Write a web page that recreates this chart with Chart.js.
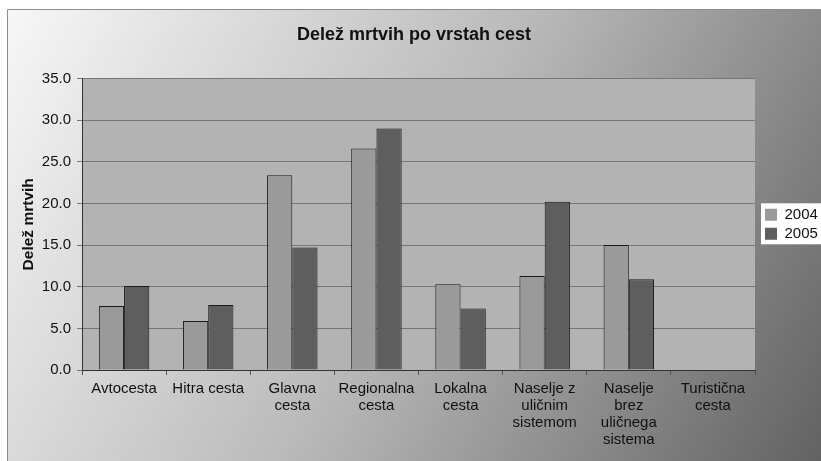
<!DOCTYPE html>
<html>
<head>
<meta charset="utf-8">
<script src="https://cdn.jsdelivr.net/npm/chart.js@4"></script>
<style>
  html, body { margin: 0; padding: 0; background: #fff; }
  #wrap { width: 821px; height: 461px; }
</style>
</head>
<body>
<div id="wrap"><canvas id="chartMrtvi" width="821" height="461"></canvas></div>
<script>
// podatki
const kategorije = [
  "Avtocesta",
  "Hitra cesta",
  ["Glavna", "cesta"],
  ["Regionalna", "cesta"],
  ["Lokalna", "cesta"],
  ["Naselje z", "uličnim", "sistemom"],
  ["Naselje", "brez", "uličnega", "sistema"],
  ["Turistična", "cesta"]
];
const leto2004 = [7.7, 5.9, 23.4, 26.6, 10.3, 11.3, 15.0, null];
const leto2005 = [10.1, 7.8, 14.7, 29.0, 7.4, 20.2, 10.9, null];
const serije = ["2004", "2005"];

const FONT = "'Liberation Sans', Arial, sans-serif";

/* ozadje: gradient okvir, siva risalna površina, bela legenda */
const ozadjePlugin = {
  id: "ozadje",
  afterLayout(chart) {
    // legenda naj bo poravnana na sredino risalne površine
    if (chart.legend) {
      chart.legend.top = chart.chartArea.top;
      chart.legend.bottom = chart.chartArea.bottom;
      chart.legend.left += 6;
    }
  },
  beforeDraw(chart) {
    const { ctx, chartArea } = chart;
    ctx.save();
    ctx.fillStyle = "#ffffff";
    ctx.fillRect(0, 0, chart.width, chart.height);

    const g = ctx.createLinearGradient(7, 9, chart.width, chart.height);
    g.addColorStop(0, "#f7f7f7");
    g.addColorStop(0.5, "#b9b9b9");
    g.addColorStop(1, "#626262");
    ctx.fillStyle = g;
    ctx.fillRect(7, 9, chart.width - 7, chart.height - 9);
    ctx.strokeStyle = "#8c8c8c";
    ctx.lineWidth = 1;
    ctx.beginPath();
    ctx.moveTo(7.5, chart.height);
    ctx.lineTo(7.5, 9.5);
    ctx.lineTo(chart.width, 9.5);
    ctx.stroke();

    ctx.fillStyle = "#b3b3b3";
    ctx.fillRect(chartArea.left, chartArea.top, chartArea.right - chartArea.left, chartArea.bottom - chartArea.top);

    const boxes = chart.legend && chart.legend.legendHitBoxes;
    if (boxes && boxes.length) {
      const l = Math.min(...boxes.map(b => b.left)) - 4;
      const t = Math.min(...boxes.map(b => b.top)) - 4;
      const b = Math.max(...boxes.map(b => b.top + b.height)) + 3;
      ctx.fillStyle = "#ffffff";
      ctx.fillRect(l, t, chart.width - l, b - t);
    }
    ctx.restore();
  }
};

const ctx = document.getElementById("chartMrtvi").getContext("2d");

const chartMrtvi = new Chart(ctx, {
  type: "bar",
  data: {
    labels: kategorije,
    datasets: [
      {
        label: serije[0],
        data: leto2004,
        backgroundColor: "#9a9a9a",
        borderColor: "#1a1a1a",
        borderWidth: 1,
        borderSkipped: "bottom",
      },
      {
        label: serije[1],
        data: leto2005,
        backgroundColor: "#5e5e5e",
        borderColor: "#1a1a1a",
        borderWidth: 1,
        borderSkipped: "bottom",
      },
    ],
  },
  options: {
    responsive: false,
    animation: false,
    devicePixelRatio: 1,
    layout: { padding: { left: 7, top: 9, right: 0, bottom: 0 } },
    datasets: {
      bar: { categoryPercentage: 0.6, barPercentage: 1.0 },
    },
    plugins: {
      title: {
        display: true,
        text: "Delež mrtvih po vrstah cest",
        color: "#111",
        font: { family: FONT, size: 18, weight: "bold" },
        padding: { top: 15, bottom: 33 },
      },
      legend: {
        position: "right",
        align: "center",
        maxWidth: 66,
        labels: {
          color: "#111",
          font: { family: FONT, size: 15 },
          boxWidth: 12,
          boxHeight: 12,
          padding: 4,
          generateLabels: (chart) =>
            Chart.defaults.plugins.legend.labels.generateLabels(chart).map((it) => ({ ...it, lineWidth: 0 })),
        },
      },
      tooltip: { enabled: false },
    },
    scales: {
      x: {
        offset: true,
        afterFit: (scale) => { scale.height = 91; },
        grid: {
          drawOnChartArea: false,
          drawTicks: true,
          tickLength: 5,
          color: "#555",
          offset: true,
        },
        border: { color: "#333", width: 1 },
        ticks: {
          color: "#111",
          font: { family: FONT, size: 15, lineHeight: 1.14 },
          maxRotation: 0,
          autoSkip: false,
          padding: 5,
        },
      },
      y: {
        min: 0,
        max: 35,
        afterFit: (scale) => { scale.width = 75; },
        grid: {
          color: "#777777",
          tickLength: 5,
        },
        border: { color: "#333", width: 1 },
        ticks: {
          stepSize: 5,
          color: "#111",
          font: { family: FONT, size: 15 },
          padding: 6,
          callback: (v) => Number(v).toFixed(1),
        },
        title: {
          display: true,
          text: "Delež mrtvih",
          color: "#111",
          font: { family: FONT, size: 15.5, weight: "bold" },
          padding: { top: 12, bottom: 0 },
        },
      },
    },
  },
  plugins: [ozadjePlugin],
});
</script>
</body>
</html>
